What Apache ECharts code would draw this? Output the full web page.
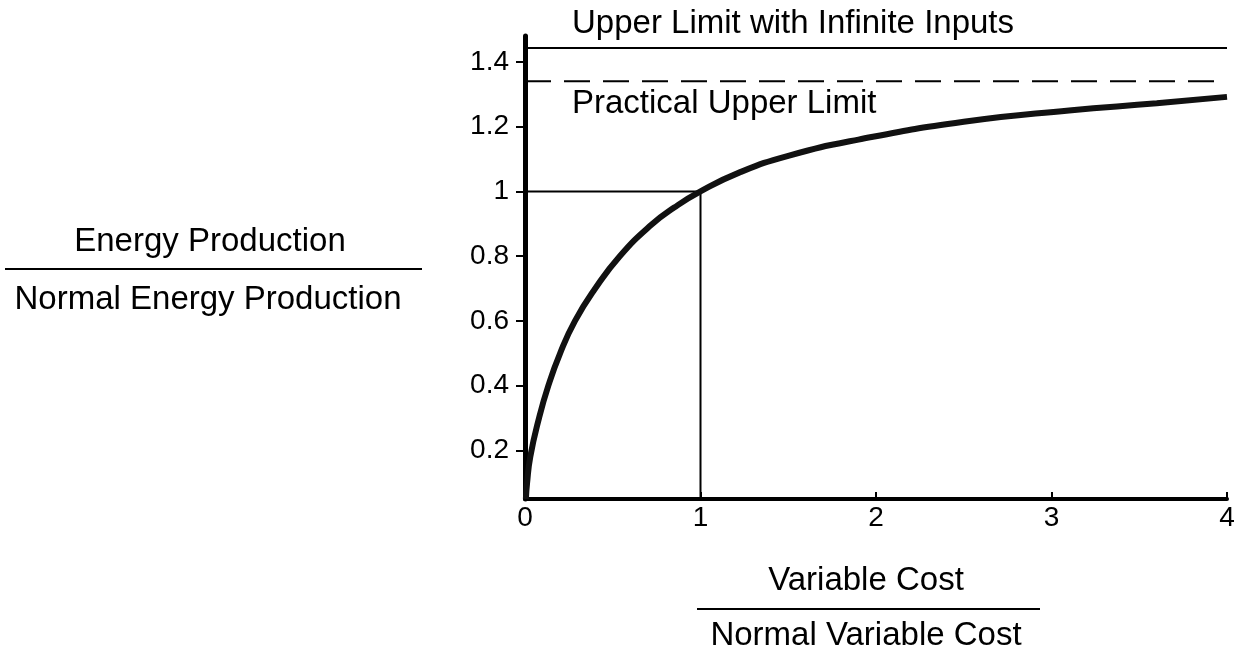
<!DOCTYPE html>
<html>
<head>
<meta charset="utf-8">
<script src="https://cdn.jsdelivr.net/npm/echarts@6/dist/echarts.min.js"></script>
<style>
html,body{margin:0;padding:0;background:#fff;}
#chart{width:1238px;height:654px;}
</style>
</head>
<body>
<div id="chart"></div>
<script>
// Data
var costRatio  = [0.005, 0.012, 0.03, 0.08, 0.133, 0.2, 0.285, 0.4, 0.54, 0.72, 0.85, 1.0, 1.22, 1.5, 1.9, 2.5, 3.1, 3.6, 4.0];
var energyRatio = [0.05, 0.1, 0.18, 0.3, 0.4, 0.5, 0.6, 0.7, 0.8, 0.897, 0.95, 1.0, 1.058, 1.11, 1.16, 1.215, 1.25, 1.272, 1.292];
var upperLimit = 1.443;
var practicalLimit = 1.34;
var normalPoint = [1, 1];
var xTicks = [0, 1, 2, 3, 4];
var yTicks = [0.2, 0.4, 0.6, 0.8, 1, 1.2, 1.4];
var yRange = [0.05, 1.48];
var labels = {
  infinite: 'Upper Limit with Infinite Inputs',
  practical: 'Practical Upper Limit',
  yNum: 'Energy Production',
  yDen: 'Normal Energy Production',
  xNum: 'Variable Cost',
  xDen: 'Normal Variable Cost'
};

var curve = costRatio.map(function (x, i) { return [x, energyRatio[i]]; });
var font = 'Liberation Sans, Arial, Helvetica, sans-serif';

var chart = echarts.init(document.getElementById('chart'));
chart.setOption({
  animation: false,
  backgroundColor: '#ffffff',
  grid: { left: 525, right: 11, top: 36, bottom: 155, containLabel: false },
  xAxis: {
    type: 'value',
    min: xTicks[0], max: xTicks[xTicks.length - 1], interval: 1,
    axisLine: { show: true, onZero: false, lineStyle: { color: '#000', width: 4 } },
    axisTick: { show: true, inside: true, length: 7, lineStyle: { color: '#000', width: 2 } },
    axisLabel: { color: '#000', fontSize: 28, fontFamily: font, margin: 5 },
    splitLine: { show: false }
  },
  yAxis: {
    type: 'value',
    min: yRange[0], max: yRange[1],
    axisLine: { show: true, lineStyle: { color: '#000', width: 5 } },
    axisTick: { show: true, length: 9, customValues: yTicks, lineStyle: { color: '#000', width: 2 } },
    axisLabel: { color: '#000', fontSize: 28, fontFamily: font, margin: 16, customValues: yTicks },
    splitLine: { show: false }
  },
  series: [
    {
      type: 'line', data: [[xTicks[0], upperLimit], [xTicks[xTicks.length - 1], upperLimit]],
      symbol: 'none', lineStyle: { color: '#000', width: 2 }, z: 3
    },
    {
      type: 'line', data: [[xTicks[0], practicalLimit], [xTicks[xTicks.length - 1], practicalLimit]],
      symbol: 'none', lineStyle: { color: '#000', width: 2, type: [26, 13] }, z: 3
    },
    {
      type: 'line', data: [[xTicks[0], normalPoint[1]], normalPoint, [normalPoint[0], yRange[0]]],
      symbol: 'none', lineStyle: { color: '#000', width: 2 }, z: 3
    },
    {
      type: 'line', data: curve, smooth: 0.5,
      symbol: 'none', lineStyle: { color: '#111', width: 6 }, z: 4
    }
  ],
  graphic: [
    { type: 'text', left: 572, top: 7, style: { text: labels.infinite, fontSize: 33, fontFamily: font, fill: '#000' } },
    { type: 'text', left: 572, top: 87, style: { text: labels.practical, fontSize: 33, fontFamily: font, fill: '#000' } },
    { type: 'text', x: 210, y: 242, style: { text: labels.yNum, fontSize: 33, fontFamily: font, fill: '#000', align: 'center', verticalAlign: 'middle' } },
    { type: 'line', shape: { x1: 5, y1: 269, x2: 422, y2: 269 }, style: { stroke: '#000', lineWidth: 2 } },
    { type: 'text', x: 208, y: 300, style: { text: labels.yDen, fontSize: 33, fontFamily: font, fill: '#000', align: 'center', verticalAlign: 'middle' } },
    { type: 'text', x: 866, y: 581, style: { text: labels.xNum, fontSize: 33, fontFamily: font, fill: '#000', align: 'center', verticalAlign: 'middle' } },
    { type: 'line', shape: { x1: 697, y1: 609, x2: 1040, y2: 609 }, style: { stroke: '#000', lineWidth: 2 } },
    { type: 'text', x: 866, y: 636, style: { text: labels.xDen, fontSize: 33, fontFamily: font, fill: '#000', align: 'center', verticalAlign: 'middle' } }
  ]
});
</script>
</body>
</html>
